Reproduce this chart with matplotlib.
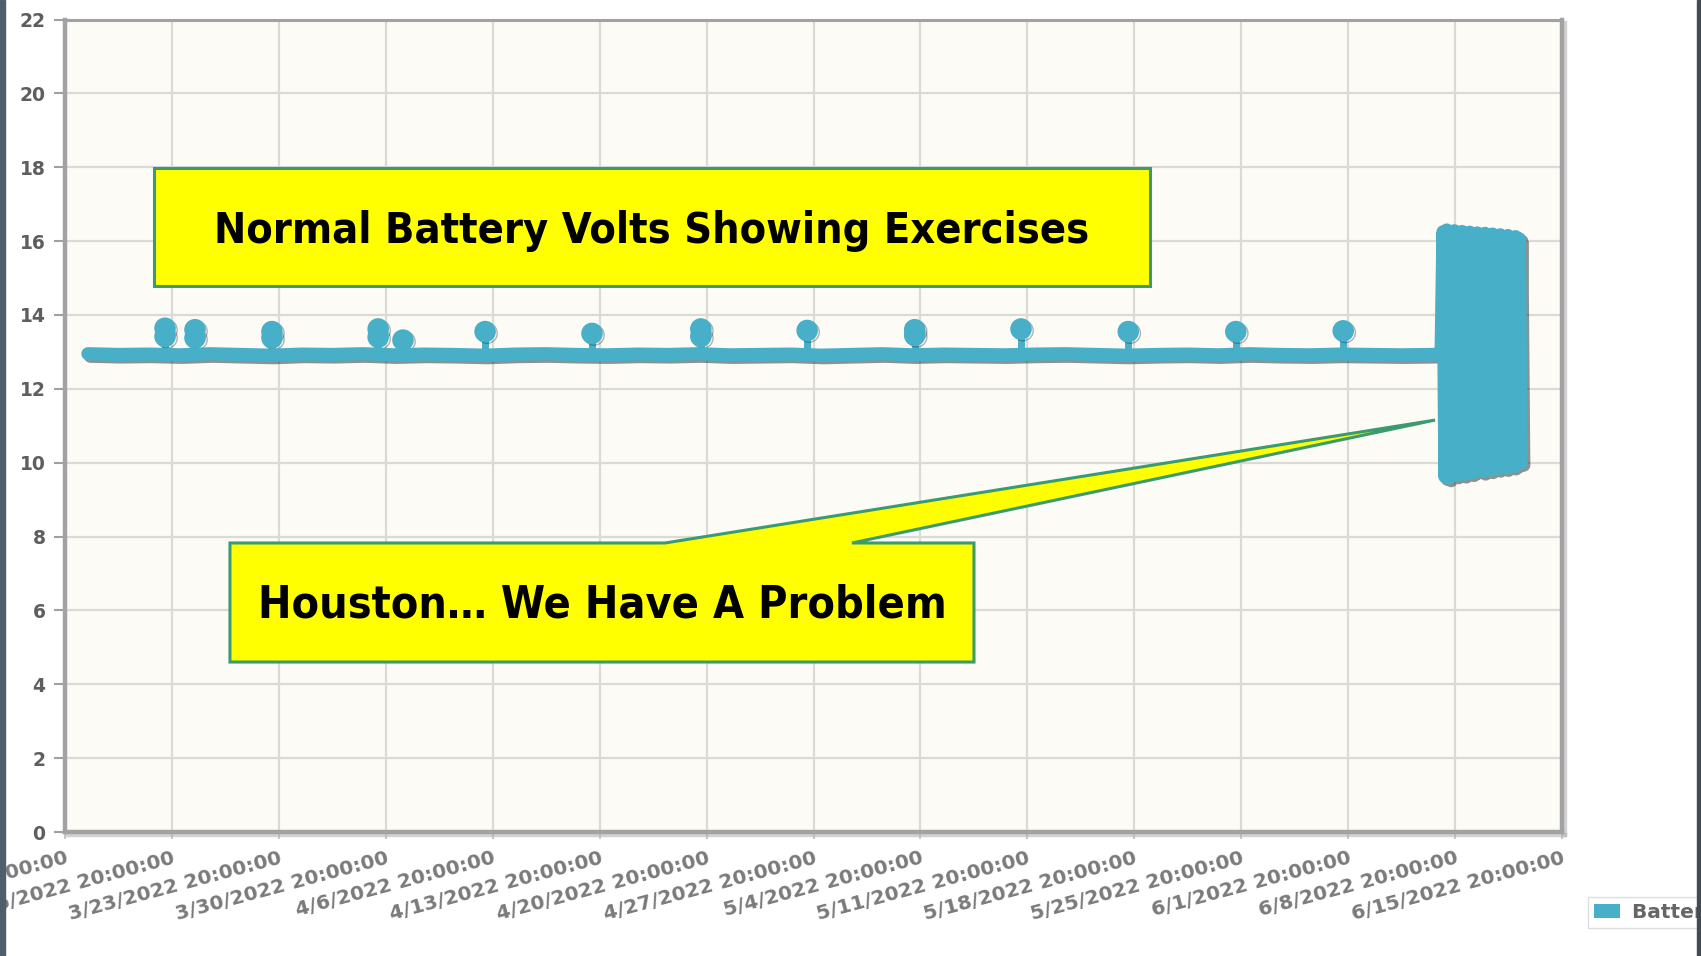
import numpy as np
import pandas as pd
import matplotlib
matplotlib.use("Agg")
import matplotlib.pyplot as plt
import matplotlib.dates as mdates
import matplotlib.patheffects as pe
from matplotlib import font_manager as fm
from matplotlib.patches import Rectangle, Polygon, Patch

# --- data -----------------------------------------------------------------
# normal float voltage, one reading every 2 days
base_start = "2022-03-11 08:00"
base_volts = [12.95, 12.93, 12.94, 12.92, 12.95, 12.93, 12.91, 12.94, 12.93, 12.95,
              12.92, 12.94, 12.93, 12.91, 12.94, 12.95, 12.93, 12.92, 12.94, 12.93,
              12.95, 12.92, 12.93, 12.94, 12.91, 12.93, 12.95, 12.92, 12.94, 12.93,
              12.92, 12.94, 12.95, 12.93, 12.91, 12.93, 12.94, 12.92, 12.95, 12.93,
              12.92, 12.94, 12.93, 12.92, 12.93]

# weekly exercise readings
ex_times = ["2022-03-16 09:10", "2022-03-18 08:15", "2022-03-23 09:10", "2022-03-30 08:00",
            "2022-03-31 23:00", "2022-04-06 08:00", "2022-04-13 08:00", "2022-04-20 11:00",
            "2022-04-27 10:00", "2022-05-04 11:00", "2022-05-11 10:00", "2022-05-18 10:30",
            "2022-05-25 11:30", "2022-06-01 12:15"]
ex_volts = [[13.64, 13.42], [13.60, 13.38], [13.55, 13.38], [13.62, 13.40],
            [13.32], [13.55], [13.50], [13.62, 13.42],
            [13.58], [13.60, 13.45], [13.62], [13.55],
            [13.55], [13.57]]

# the problem: readings every 3 hours swinging between ~10 V and ~16 V
surge_start = "2022-06-07 22:00"
surge_volts = [12.94, 16.25, 9.62, 16.30, 9.58, 16.22, 9.70, 16.28, 9.66, 16.20, 9.75,
               16.26, 9.68, 16.18, 9.80, 16.24, 9.72, 16.20, 9.78, 16.22, 9.82,
               16.16, 9.76, 16.21, 9.85, 16.14, 9.80, 16.19, 9.88, 16.12, 9.84,
               16.17, 9.92, 16.10, 9.86, 16.15, 9.95, 16.08, 9.90, 16.12, 9.97,
               16.06, 10.00]

x_start = "2022-03-09 20:00"
x_end = "2022-06-15 20:00"
y_ticks = [0, 2, 4, 6, 8, 10, 12, 14, 16, 18, 20, 22]
legend_label = "Battery Volts"
title_text = "Normal Battery Volts Showing Exercises"
callout_text = "Houston\u2026 We Have A Problem"

# --- styling --------------------------------------------------------------
W, H = 1701, 956
line_col = "#47afc7"
shadow = [pe.SimpleLineShadow(offset=(1.8, -1.8), shadow_color="#1c2a30", alpha=0.5), pe.Normal()]


def num(ts):
    return mdates.date2num(pd.to_datetime(ts).to_pydatetime())


def pick_font():
    # a narrow bold face is closest to the slide's font
    for fam, stretch in [("Liberation Sans Narrow", "normal"), ("Noto Sans", "condensed"),
                         ("DejaVu Sans", "condensed"), ("Open Sans", "condensed")]:
        try:
            p = fm.findfont(fm.FontProperties(family=fam, weight="bold", stretch=stretch),
                            fallback_to_default=False)
        except Exception:
            continue
        if "narrow" in p.lower() or "condensed" in p.lower():
            return fam, stretch
    return "Lato", "normal"


base_t = num(pd.date_range(base_start, periods=len(base_volts), freq="2D"))
surge_t = num(pd.date_range(surge_start, periods=len(surge_volts), freq="3h"))
line_t = np.concatenate([base_t, surge_t])
line_v = np.concatenate([base_volts, surge_volts])

fig = plt.figure(figsize=(W / 100, H / 100), dpi=100)
fig.patch.set_facecolor("white")
ax = fig.add_axes([65 / W, 124 / H, 1497 / W, 812.5 / H])
ax.set_facecolor("#fdfbf6")

stem_base = np.median(base_volts)
for t, vs in zip(ex_times, ex_volts):
    tn = num(t)
    ax.plot([tn, tn], [stem_base, max(vs)], color=line_col, lw=5, zorder=2)
    ax.plot([tn] * len(vs), vs, "o", ms=14.5, color=line_col, mec=line_col,
            path_effects=[pe.SimpleLineShadow(offset=(1.5, -1.2), shadow_color="#1c2a30", alpha=0.35),
                          pe.Normal()], zorder=2)

ax.plot(line_t, line_v, color=line_col, lw=9.5, solid_capstyle="round",
        solid_joinstyle="round", path_effects=shadow, zorder=3)

# axes
ticks = pd.date_range(x_start, x_end, freq="7D")
ax.set_xlim(num(x_start), num(x_end))
ax.set_ylim(0, 22)
ax.set_xticks(num(ticks))
ax.set_xticklabels([f"{d.month}/{d.day}/{d.year} 20:00:00" for d in ticks],
                   rotation=15, ha="right", va="top", rotation_mode="anchor")
ax.set_yticks(y_ticks)
ax.grid(True, color="#dcdad6", lw=1.6, zorder=0)
ax.set_axisbelow(True)
ax.tick_params(axis="y", length=8, width=1.5, color="#a0a0a0", pad=6,
               labelsize=13.5, labelcolor="#5e5e5e")
ax.tick_params(axis="x", length=5, width=1.5, color="#c8c8c8", pad=7,
               labelsize=14.5, labelcolor="#7a7a7a")
for lab in ax.get_yticklabels() + ax.get_xticklabels():
    lab.set_fontweight("bold")
for side, lw in [("left", 3.2), ("bottom", 3.2), ("top", 2.2), ("right", 3.2)]:
    ax.spines[side].set_color("#a2a2a2")
    ax.spines[side].set_linewidth(lw)
for side in ["right", "bottom"]:
    ax.spines[side].set_path_effects([pe.SimpleLineShadow(offset=(2.5, -2.5), shadow_color="#b5b5b5", alpha=0.6),
                                      pe.Normal()])

# callouts (axes fraction)
edge = "#3b9b70"
ax.add_patch(Rectangle((0.0595, 0.672), 0.6653, 0.1452, transform=ax.transAxes,
                       facecolor="#ffff00", edgecolor=edge, lw=2.2, zorder=6, clip_on=False))
call = [(0.1102, 0.3557), (0.4008, 0.3557), (0.9152, 0.507), (0.5257, 0.3557),
        (0.6072, 0.3557), (0.6072, 0.2092), (0.1102, 0.2092)]
ax.add_patch(Polygon(call, closed=True, transform=ax.transAxes, facecolor="#ffff00",
                     edgecolor=edge, lw=2.2, joinstyle="miter", zorder=6, clip_on=False))

fam, stretch = pick_font()
t1 = ax.text(0.392, 0.740, title_text, transform=ax.transAxes, ha="center", va="center",
             fontsize=30, fontweight="bold", family=[fam, "DejaVu Sans"], fontstretch=stretch,
             color="black", zorder=7)
t2 = ax.text(0.3587, 0.2794, callout_text, transform=ax.transAxes, ha="center", va="center",
             fontsize=30, fontweight="bold", family=[fam, "DejaVu Sans"], fontstretch=stretch,
             color="black", zorder=7)
renderer = fig.canvas.get_renderer()
for t, target in [(t1, 873), (t2, 688)]:
    bb = t.get_window_extent(renderer)
    t.set_fontsize(30 * target / bb.width)

# legend, cut off by the right edge like the slide
fig.legend(handles=[Patch(facecolor=line_col, edgecolor="none", label=legend_label)],
           loc="upper left", bbox_to_anchor=(1588 / W, 1 - 897 / H), frameon=True,
           fancybox=False, edgecolor="#dddddd", framealpha=1, borderaxespad=0,
           handlelength=1.3, handleheight=0.75, borderpad=0.3, handletextpad=0.6,
           prop={"size": 14.5, "weight": "bold"}, labelcolor="#666666")

# dark slide edges
fig.add_artist(Rectangle((0, 0), 5 / W, 1, transform=fig.transFigure, color="#4f5e6a", zorder=20))
fig.add_artist(Rectangle((1697 / W, 0), 4 / W, 1, transform=fig.transFigure, color="#3f4c57", zorder=20))

fig.savefig("out.png", dpi=100)
